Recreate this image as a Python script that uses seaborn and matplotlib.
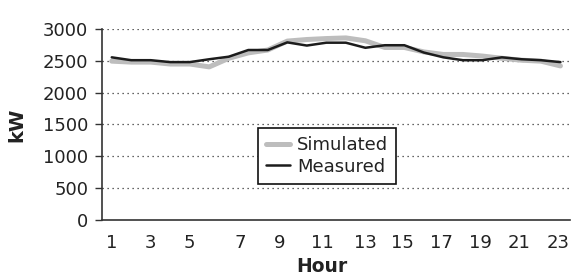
import numpy as np
import pandas as pd
import matplotlib
matplotlib.use("Agg")
import matplotlib.pyplot as plt
import seaborn as sns

# hourly load, kW
hours = list(range(1, 25))
simulated = [2495, 2480, 2480, 2450, 2450, 2405, 2540, 2625, 2670, 2810, 2835, 2850,
             2860, 2815, 2710, 2710, 2640, 2600, 2600, 2575, 2540, 2510, 2495, 2420]
measured = [2555, 2510, 2510, 2480, 2480, 2525, 2565, 2670, 2670, 2790, 2740, 2785,
            2785, 2705, 2745, 2745, 2630, 2555, 2510, 2510, 2555, 2525, 2510, 2480]
tick_labels = ["1", "3", "5", "7", "9", "11", "13", "15", "17", "19", "21", "23"]
tick_pos = [1, 3, 5, 7.6, 9.6, 11.8, 14, 15.9, 17.9, 19.9, 21.9, 23.9]
y_ticks = [0, 500, 1000, 1500, 2000, 2500, 3000]

df = pd.DataFrame({
    "Hour": hours * 2,
    "kW": simulated + measured,
    "series": ["Simulated"] * 24 + ["Measured"] * 24,
})

sns.set_style("white")
plt.rcParams["font.family"] = ["DejaVu Sans"]

fig = plt.figure(figsize=(5.71, 2.77), dpi=100)
ax = fig.add_axes([0.1786, 0.2058, 0.82, 0.6895])

sns.lineplot(data=df[df.series == "Simulated"], x="Hour", y="kW", color="#bdbdbd",
             linewidth=3.6, label="Simulated", ax=ax)
sns.lineplot(data=df[df.series == "Measured"], x="Hour", y="kW", color="#1c1c1c",
             linewidth=1.8, label="Measured", ax=ax)

ax.set_xlim(0.5, 24.5)
ax.set_ylim(0, 3000)
ax.set_yticks(y_ticks)
ax.set_yticklabels([str(v) for v in y_ticks], fontsize=13, color="#222222")
for v in y_ticks[1:]:
    ax.axhline(v, color="#333333", linestyle=(0, (1, 3)), linewidth=0.9, zorder=0)

ax.set_xticks(np.arange(0.5, 25, 1), minor=True)
ax.set_xticks(tick_pos)
ax.set_xticklabels(tick_labels, fontsize=13, color="#222222")
ax.tick_params(axis="x", which="major", length=0, pad=10)
ax.tick_params(axis="x", which="minor", length=4, width=1, color="#333333", direction="out")
ax.tick_params(axis="y", length=5, width=1, color="#333333", direction="out", pad=5, left=True)

for s in ["top", "right"]:
    ax.spines[s].set_visible(False)
for s in ["left", "bottom"]:
    ax.spines[s].set_color("#333333")
    ax.spines[s].set_linewidth(1.2)

ax.set_xlabel("Hour", fontsize=13.5, fontweight="bold", color="#222222")
ax.set_ylabel("kW", fontsize=14, fontweight="bold", color="#222222")
ax.xaxis.set_label_coords((322 - 102) / 469, -(257 - 220) / 191)
ax.yaxis.set_label_coords(-(102 - 26) / 469, 0.5)

leg = ax.legend(loc="upper left", bbox_to_anchor=(258 / 571, 1 - 128 / 277),
                bbox_transform=fig.transFigure, fontsize=13, frameon=True,
                fancybox=False, handlelength=1.3, handletextpad=0.4,
                borderpad=0.45, labelspacing=0.2, borderaxespad=0)
leg.get_frame().set_edgecolor("#111111")
leg.get_frame().set_linewidth(1.2)
leg.get_frame().set_alpha(1)
for t in leg.get_texts():
    t.set_color("#222222")

fig.savefig("out.png", dpi=100)
